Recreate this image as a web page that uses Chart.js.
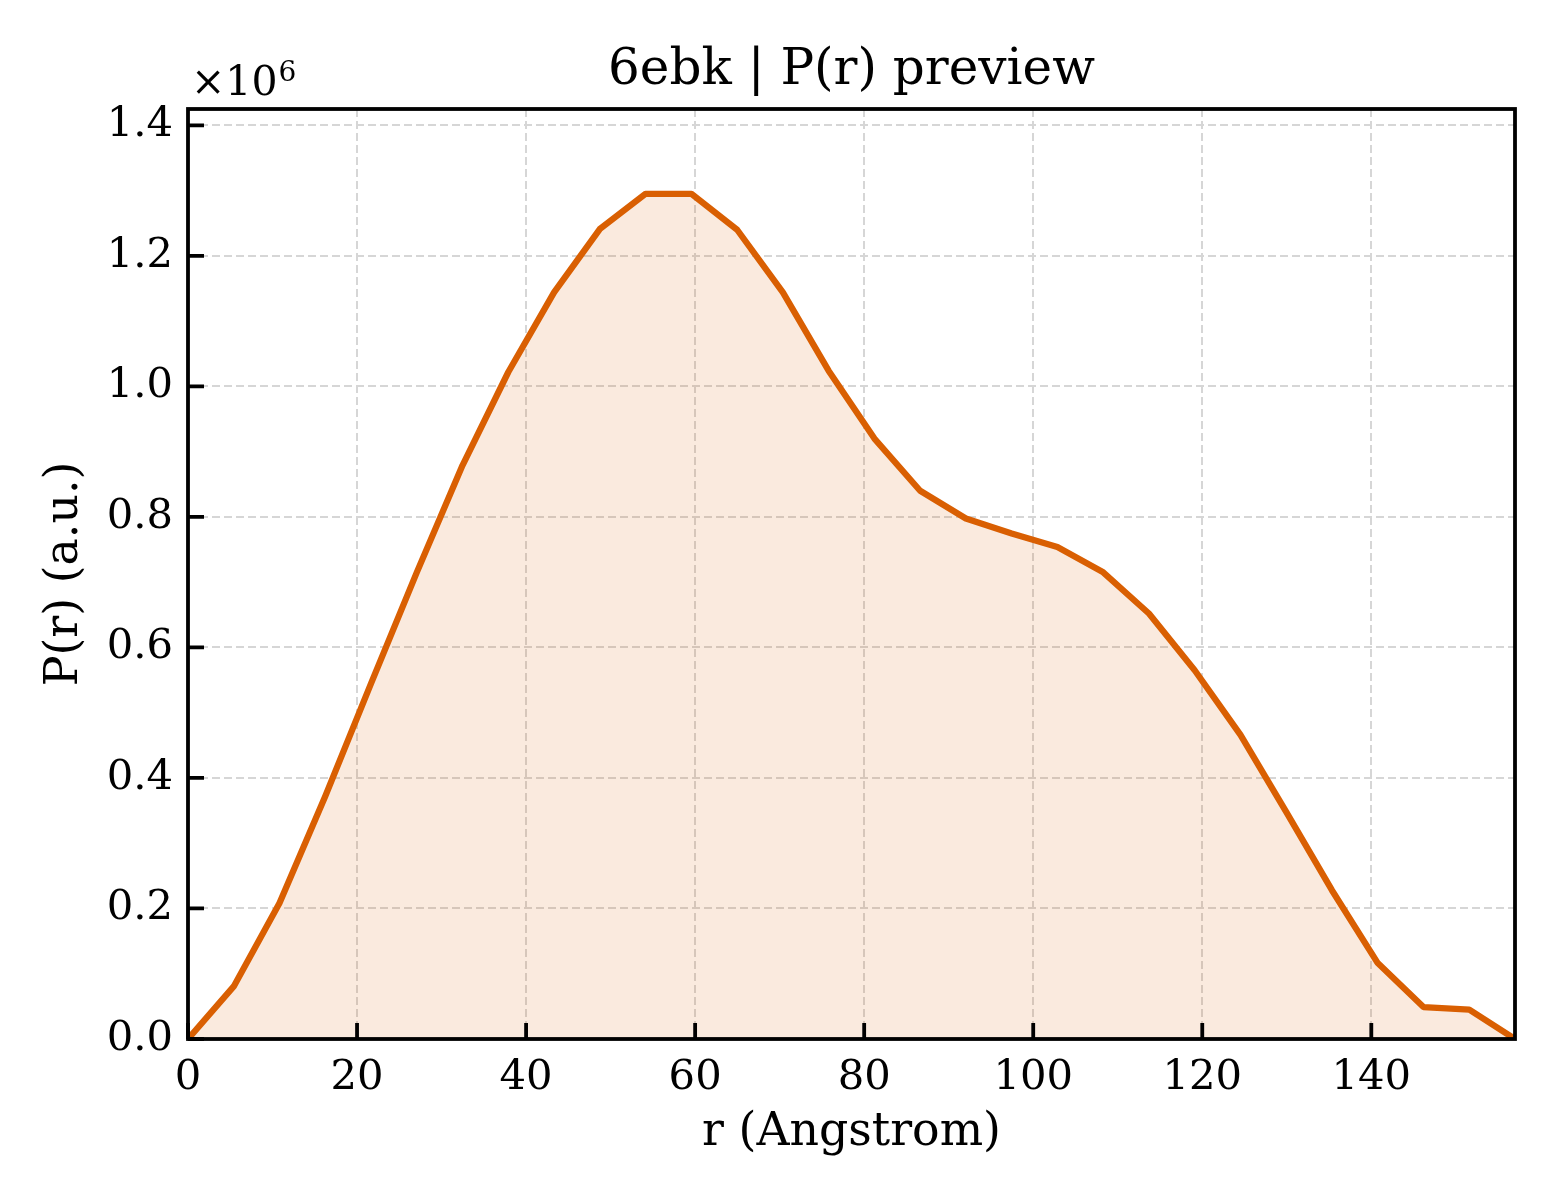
<!DOCTYPE html>
<html>
<head>
<meta charset="utf-8">
<style>
  html, body { margin: 0; padding: 0; background: #ffffff; }
  #wrap { width: 1560px; height: 1200px; }
  canvas { display: block; }
</style>
<script src="https://cdn.jsdelivr.net/npm/chart.js@4.4.1/dist/chart.umd.min.js"></script>
</head>
<body>
<div id="wrap"><canvas id="c" width="1560" height="1200"></canvas></div>
<script>
// ---- data ----
const chartTitle = "6ebk | P(r) preview";
const xLabel = "r (Angstrom)";
const yLabel = "P(r) (a.u.)";
const rValues = [0, 5.41, 10.83, 16.24, 21.66, 27.07, 32.48, 37.90, 43.31, 48.72,
                 54.14, 59.55, 64.97, 70.38, 75.79, 81.21, 86.62, 92.03, 97.45, 102.86,
                 108.28, 113.69, 119.10, 124.52, 129.93, 135.34, 140.76, 146.17, 151.59, 157.0];
const prValues = [0, 0.0806e6, 0.2084e6, 0.372e6, 0.545e6, 0.715e6, 0.879e6, 1.022e6, 1.144e6, 1.241e6,
                  1.295e6, 1.295e6, 1.240e6, 1.144e6, 1.024e6, 0.920e6, 0.840e6, 0.7975e6, 0.7745e6, 0.754e6,
                  0.715e6, 0.652e6, 0.565e6, 0.466e6, 0.348e6, 0.228e6, 0.1163e6, 0.049e6, 0.0449e6, 0];
const xTicks = [0, 20, 40, 60, 80, 100, 120, 140];
const yTicks = [0, 0.2e6, 0.4e6, 0.6e6, 0.8e6, 1.0e6, 1.2e6, 1.4e6];
const xMax = 157.0;
const yMax = 1.425e6;

const FONT = "'DejaVu Serif', 'Liberation Serif', serif";
const lineColor = "#d95f02";
const fillColor = "rgba(217,95,2,0.13)";

const framePlugin = {
  id: 'frame',
  afterDraw(chart) {
    const ctx = chart.ctx;
    const a = chart.chartArea;
    const xs = chart.scales.x, ys = chart.scales.y;
    ctx.save();
    // inward ticks
    ctx.strokeStyle = '#000';
    ctx.lineWidth = 3.8;
    ctx.lineCap = 'butt';
    ctx.beginPath();
    xTicks.forEach(v => {
      const px = xs.getPixelForValue(v);
      ctx.moveTo(px, a.bottom);
      ctx.lineTo(px, a.bottom - 16);
    });
    yTicks.forEach(v => {
      const py = ys.getPixelForValue(v);
      ctx.moveTo(a.left, py);
      ctx.lineTo(a.left + 16, py);
    });
    ctx.stroke();
    // frame
    ctx.lineWidth = 3.8;
    ctx.strokeRect(a.left, a.top, a.right - a.left, a.bottom - a.top);
    // title
    ctx.fillStyle = '#000';
    ctx.font = "50px " + FONT;
    ctx.textAlign = 'center';
    ctx.textBaseline = 'alphabetic';
    ctx.fillText(chartTitle, (a.left + a.right) / 2, 84);
    // offset text  x10^6
    ctx.textAlign = 'left';
    ctx.font = "41px " + FONT;
    ctx.fillText("\u00d710", 191, 95);
    const w = ctx.measureText("\u00d710").width;
    ctx.font = "28px " + FONT;
    ctx.fillText("6", 191 + w + 1, 81);
    ctx.restore();
  }
};

const ctx = document.getElementById('c').getContext('2d');
new Chart(ctx, {
  type: 'line',
  data: {
    datasets: [{
      data: rValues.map((r, i) => ({ x: r, y: prValues[i] })),
      borderColor: lineColor,
      backgroundColor: fillColor,
      borderWidth: 6.3,
      fill: 'origin',
      tension: 0,
      pointRadius: 0,
      borderJoinStyle: 'round',
      borderCapStyle: 'round'
    }]
  },
  options: {
    responsive: false,
    animation: false,
    devicePixelRatio: 1,
    layout: { padding: { top: 109, right: 45, left: 0, bottom: 0 } },
    plugins: { legend: { display: false }, title: { display: false }, tooltip: { enabled: false } },
    scales: {
      x: {
        type: 'linear',
        min: 0, max: xMax,
        afterFit(s) { s.height = 161; },
        afterBuildTicks(s) { s.ticks = xTicks.map(v => ({ value: v })); },
        grid: { color: '#d6d6d6', lineWidth: 2, drawTicks: false },
        border: { display: false, dash: [8, 4] },
        ticks: {
          color: '#000', padding: 14, maxRotation: 0,
          font: { family: FONT, size: 41.7 },
          callback: v => String(v)
        },
        title: {
          display: true, text: xLabel, color: '#000',
          font: { family: FONT, size: 45.8 },
          padding: { top: 0, bottom: 39 }
        }
      },
      y: {
        type: 'linear',
        min: 0, max: yMax,
        afterFit(s) { s.width = 188; },
        afterBuildTicks(s) { s.ticks = yTicks.map(v => ({ value: v })); },
        grid: { color: '#d6d6d6', lineWidth: 2, drawTicks: false },
        border: { display: false, dash: [8, 4] },
        ticks: {
          color: '#000', padding: 15,
          font: { family: FONT, size: 41.7 },
          callback: v => (v / 1e6).toFixed(1)
        },
        title: {
          display: true, text: yLabel, color: '#000',
          font: { family: FONT, size: 45.8 },
          padding: { top: 38, bottom: 0 }
        }
      }
    }
  },
  plugins: [framePlugin]
});
</script>
</body>
</html>
